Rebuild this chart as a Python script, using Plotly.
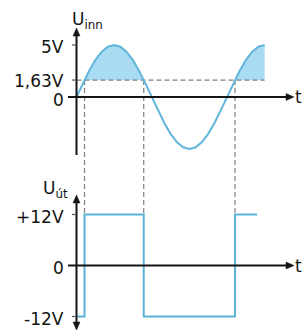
import numpy as np
import plotly.graph_objects as go

# ---------------- data ----------------
# input voltage U_inn sampled every 15 degrees (V), read from the picture
PHASE_DEG = [0, 15, 30, 45, 60, 75, 90, 105, 120, 135, 150, 165, 180, 195, 210, 225,
             240, 255, 270, 285, 300, 315, 330, 345, 360, 375, 390, 405, 420, 435, 450]
U_INN = [0, 1.29, 2.5, 3.54, 4.33, 4.83, 5, 4.83, 4.33, 3.54, 2.5, 1.29, 0, -1.29, -2.5, -3.54,
         -4.33, -4.83, -5, -4.83, -4.33, -3.54, -2.5, -1.29, 0, 1.29, 2.5, 3.54, 4.33, 4.83, 5]
THRESHOLD = 1.63          # V
OUT_HIGH = 12             # V
OUT_LOW = -12             # V
OUT_END_DEG = 432         # where the drawn output stops

TOP_TICKS = [5, THRESHOLD, 0]
TOP_TICK_TEXT = ["5V", "1,63V", "0"]
BOT_TICKS = [OUT_HIGH, 0, OUT_LOW]
BOT_TICK_TEXT = ["+12V", "0", "-12V"]

# ---------------- geometry / style ----------------
W, H = 303, 331
X0_PX, PX_PER_DEG = 76.5, 150.5 / 360
X_RANGE = [-X0_PX / PX_PER_DEG, (W - X0_PX) / PX_PER_DEG]
Y_ZERO_PX, PX_PER_V = 97.0, 10.4
Y_RANGE = [-(H - Y_ZERO_PX) / PX_PER_V, Y_ZERO_PX / PX_PER_V]
Y2_ZERO_PX, PX_PER_V2 = 265.5, 4.25
Y2_RANGE = [-(H - Y2_ZERO_PX) / PX_PER_V2, Y2_ZERO_PX / PX_PER_V2]

def px_x(p):
    return (p - X0_PX) / PX_PER_DEG

def px_y(p):
    return (Y_ZERO_PX - p) / PX_PER_V

def px_y2(p):
    return (Y2_ZERO_PX - p) / PX_PER_V2

def y2_to_y(v):
    p = (Y2_RANGE[1] - v) / (Y2_RANGE[1] - Y2_RANGE[0]) * H
    return Y_RANGE[1] - p / H * (Y_RANGE[1] - Y_RANGE[0])

LINE_BLUE = "#62b6dc"
SQUARE_BLUE = "#5bb3d6"
FILL_BLUE = "#a9dbf3"
DASH_GREY = "#7f7f7f"
INK = "#141414"
FONT = "DejaVu Sans"

# ---------------- derived from data ----------------
t = np.array(PHASE_DEG, dtype=float)
u = np.array(U_INN, dtype=float)

regions = []
crossings = []
cur = None
for i in range(len(t)):
    above = u[i] > THRESHOLD
    if i > 0:
        prev_above = u[i - 1] > THRESHOLD
        if above != prev_above:
            tc = t[i - 1] + (THRESHOLD - u[i - 1]) / (u[i] - u[i - 1]) * (t[i] - t[i - 1])
            crossings.append(tc)
            if above:
                cur = [(tc, THRESHOLD)]
            else:
                cur.append((tc, THRESHOLD))
                regions.append(cur)
                cur = None
    if above:
        if cur is None:
            cur = [(t[i], THRESHOLD)]
        cur.append((t[i], u[i]))
if cur is not None:
    cur.append((cur[-1][0], THRESHOLD))
    regions.append(cur)

fig = go.Figure()

for reg in regions:
    fig.add_trace(go.Scatter(x=[p[0] for p in reg], y=[p[1] for p in reg],
                             fill="toself", fillcolor=FILL_BLUE,
                             line=dict(width=0), mode="lines", hoverinfo="skip",
                             yaxis="y"))

dash = dict(color=DASH_GREY, width=1.2, dash="5px,3px")
fig.add_trace(go.Scatter(x=[0, t[-1]], y=[THRESHOLD, THRESHOLD], mode="lines",
                         line=dash, yaxis="y"))
for tc in crossings:
    fig.add_trace(go.Scatter(x=[tc, tc], y=[THRESHOLD, y2_to_y(OUT_HIGH)], mode="lines",
                             line=dash, yaxis="y"))

fig.add_trace(go.Scatter(x=t, y=u, mode="lines", line=dict(color=LINE_BLUE, width=2),
                         yaxis="y"))

sq_x, sq_y, level = [0], [OUT_LOW], OUT_LOW
for tc in crossings:
    new = OUT_HIGH if level == OUT_LOW else OUT_LOW
    sq_x += [tc, tc]
    sq_y += [level, new]
    level = new
sq_x.append(OUT_END_DEG)
sq_y.append(level)
fig.add_trace(go.Scatter(x=sq_x, y=sq_y, mode="lines", line=dict(color=SQUARE_BLUE, width=2),
                         yaxis="y2"))

# ---------------- axes drawn as shapes ----------------
shapes = []
def seg(x0, y0, x1, y1, yref, color=INK, width=2):
    shapes.append(dict(type="line", xref="x", yref=yref, x0=x0, y0=y0, x1=x1, y1=y1,
                       line=dict(color=color, width=width)))

def head(xt, yt, direction, yref, pxv):
    # arrowhead with tip at (xt, yt); length 8 px, half-width 3.5 px
    L, hw = 8, 3.5
    dx, dy = 1 / PX_PER_DEG, 1 / pxv
    if direction == "up":
        pts = [(xt, yt), (xt - hw * dx, yt - L * dy), (xt + hw * dx, yt - L * dy)]
    elif direction == "down":
        pts = [(xt, yt), (xt - hw * dx, yt + L * dy), (xt + hw * dx, yt + L * dy)]
    else:
        pts = [(xt, yt), (xt - L * dx, yt + hw * dy), (xt - L * dx, yt - hw * dy)]
    path = "M " + " L ".join(f"{a:.4f},{b:.4f}" for a, b in pts) + " Z"
    shapes.append(dict(type="path", xref="x", yref=yref, path=path, fillcolor=INK,
                       line=dict(color=INK, width=0.5)))

# top axes
seg(0, px_y(155), 0, px_y(32), "y")
head(0, px_y(28), "up", "y", PX_PER_V)
seg(px_x(68), 0, px_x(288), 0, "y")
head(px_x(294), 0, "right", "y", PX_PER_V)
# bottom axes
seg(0, px_y2(326), 0, px_y2(199), "y2")
head(0, px_y2(195), "up", "y2", PX_PER_V2)
head(0, px_y2(330), "down", "y2", PX_PER_V2)
seg(px_x(68), 0, px_x(288), 0, "y2")
head(px_x(294), 0, "right", "y2", PX_PER_V2)
# tick marks
for v in TOP_TICKS[:2]:
    seg(px_x(72), v, 0, v, "y", "#555", 1.2)
for v in [OUT_HIGH, OUT_LOW]:
    seg(px_x(72), v, 0, v, "y2", "#555", 1.2)

# ---------------- labels ----------------
ann = []
font = dict(family=FONT, size=17, color=INK)
top_shift = [-2, -1, -3]
for v, s, sh in zip(TOP_TICKS, TOP_TICK_TEXT, top_shift):
    ann.append(dict(x=px_x(66), y=v, xref="x", yref="y", text=s, showarrow=False,
                    xanchor="right", yanchor="middle", font=font, yshift=sh))
for v, s in zip(BOT_TICKS, BOT_TICK_TEXT):
    ann.append(dict(x=px_x(66), y=v, xref="x", yref="y2", text=s, showarrow=False,
                    xanchor="right", yanchor="middle", font=font, yshift=-2))
ann.append(dict(x=px_x(70), y=px_y(20), xref="x", yref="y", text="U<sub>inn</sub>",
                showarrow=False, xanchor="left", yanchor="middle", font=font))
ann.append(dict(x=px_x(41), y=px_y(189), xref="x", yref="y", text="U<sub>út</sub>",
                showarrow=False, xanchor="left", yanchor="middle", font=font))
ann.append(dict(x=px_x(293), y=0, xref="x", yref="y", text="t", showarrow=False,
                xanchor="left", yanchor="middle", font=font))
ann.append(dict(x=px_x(293), y=0, xref="x", yref="y2", text="t", showarrow=False,
                xanchor="left", yanchor="middle", font=font))

fig.update_layout(
    width=W, height=H, autosize=False,
    margin=dict(l=0, r=0, t=0, b=0),
    paper_bgcolor="white", plot_bgcolor="white",
    showlegend=False,
    xaxis=dict(range=X_RANGE, visible=False, fixedrange=True),
    yaxis=dict(range=Y_RANGE, visible=False, domain=[0, 1], fixedrange=True),
    yaxis2=dict(range=Y2_RANGE, visible=False, domain=[0, 1], overlaying="y",
                fixedrange=True),
    shapes=shapes, annotations=ann,
)

fig.write_html("out.html", config={"displayModeBar": False},
               post_script="document.body.style.margin='0';")
